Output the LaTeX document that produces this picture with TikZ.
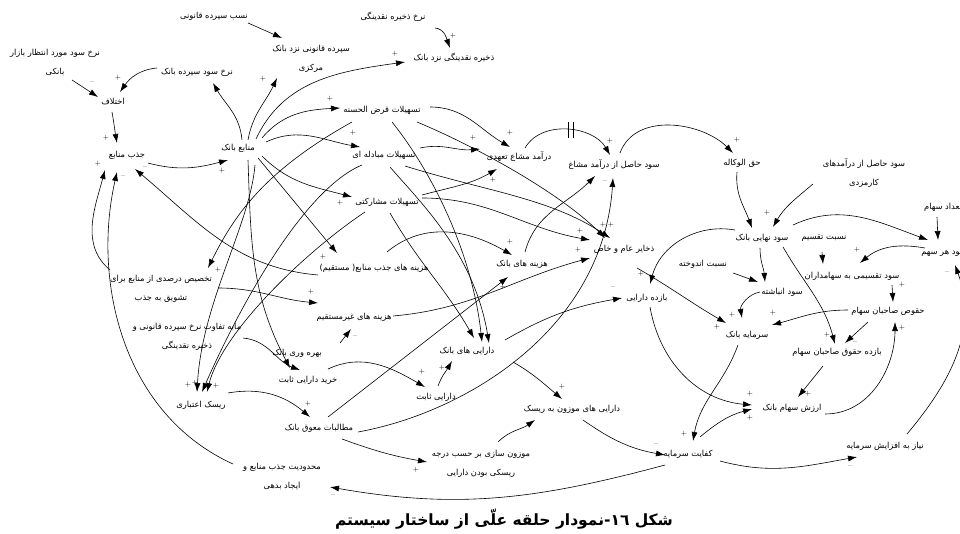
\documentclass[tikz,border=0pt]{standalone}
\usepackage{fontspec}
\usetikzlibrary{arrows.meta}
\newfontfamily\farsi[Script=Arabic]{DejaVu Sans}
\TeXXeTstate=1
\newcommand\fa[1]{\beginR#1\endR}
\begin{document}
\begin{tikzpicture}[x=1pt,y=1pt,
  lbl/.style={font=\farsi\fontsize{8.3}{19}\selectfont, inner sep=1pt, align=center},
  ttl/.style={font=\farsi\bfseries\fontsize{15.5}{18}\selectfont, inner sep=0pt},
  sgn/.style={font=\fontsize{7}{8}\selectfont, inner sep=0pt},
  lnk/.style={line width=0.6pt, -{Latex[length=9pt,width=6pt]}},
  dly/.style={line width=0.7pt}]
\useasboundingbox (0,0) rectangle (960,-534);
\fill[white] (0,0) rectangle (960,-534);
\clip (0,0) rectangle (960,-534);

% ---- variables ----
\node[lbl] (nsq) at (214,-16) {\fa{نسب سپرده قانونی}};
\node[lbl] (nzn) at (393,-17) {\fa{نرخ ذخیره نقدینگی}};
\node[lbl] (sqm) at (311,-59) {\fa{سپرده قانونی نزد بانک}\\\fa{مرکزی}};
\node[lbl] (znb) at (454,-58) {\fa{ذخیره نقدینگی نزد بانک}};
\node[lbl] (nsm) at (55,-62) {\fa{نرخ سود مورد انتظار بازار}\\\fa{بانکی}};
\node[lbl] (nsb) at (197,-72) {\fa{نرخ سود سپرده بانک}};
\node[lbl] (ekh) at (113,-102) {\fa{اختلاف}};
\node[lbl] (jzb) at (127,-155) {\fa{جذب منابع}};
\node[lbl] (mnb) at (238,-148) {\fa{منابع بانک}};
\node[lbl] (qh) at (382,-110) {\fa{تسهیلات قرض الحسنه}};
\node[lbl] (mb) at (384,-155) {\fa{تسهیلات مبادله ای}};
\node[lbl] (ms) at (387,-202) {\fa{تسهیلات مشارکتی}};
\node[lbl] (dmt) at (519,-157) {\fa{درآمد مشاع تعهدی}};
\node[lbl] (shd) at (614,-165) {\fa{سود حاصل از درآمد مشاع}};
\node[lbl] (hv) at (742,-163) {\fa{حق الوکاله}};
\node[lbl] (skz) at (864,-173) {\fa{سود حاصل از درآمدهای}\\\fa{کارمزدی}};
\node[lbl] (zak) at (624,-249) {\fa{ذخایر عام و خاص}};
\node[lbl] (hjm) at (374,-268) {\fa{هزینه های جذب منابع( مستقیم)}};
\node[lbl] (hb) at (522,-264) {\fa{هزینه های بانک}};
\node[lbl] (tkh) at (161,-289) {\fa{تخصیص درصدی از منابع برای}\\\fa{تشویق به جذب}};
\node[lbl] (hgm) at (354,-317) {\fa{هزینه های غیرمستقیم}};
\node[lbl] (snb) at (762,-238) {\fa{سود نهایی بانک}};
\node[lbl] (nt) at (824,-238) {\fa{نسبت تقسیم}};
\node[lbl] (ts) at (943,-207) {\fa{تعداد سهام}};
\node[lbl] (shs) at (944,-253) {\fa{سود هر سهم}};
\node[lbl] (stb) at (852,-276) {\fa{سود تقسیمی به سهامداران}};
\node[lbl] (nan) at (703,-264) {\fa{نسبت اندوخته}};
\node[lbl] (san) at (782,-292) {\fa{سود انباشته}};
\node[lbl] (bd) at (647,-298) {\fa{بازده دارایی}};
\node[lbl] (sb) at (747,-335) {\fa{سرمایه بانک}};
\node[lbl] (hss) at (888,-311) {\fa{حقوص صاحبان سهام}};
\node[lbl] (bhs) at (837,-352) {\fa{بازده حقوق صاحبان سهام}};
\node[lbl] (mtn) at (187,-337) {\fa{مابه تفاوت نرخ سپرده قانونی و}\\\fa{ذخیره نقدینگی}};
\node[lbl] (bvb) at (297,-353) {\fa{بهره وری بانک}};
\node[lbl] (kds) at (308,-380) {\fa{خرید دارایی ثابت}};
\node[lbl] (db) at (467,-351) {\fa{دارایی های بانک}};
\node[lbl] (ds) at (436,-397) {\fa{دارایی ثابت}};
\node[lbl] (re) at (201,-405) {\fa{ریسک اعتباری}};
\node[lbl] (mmb) at (319,-428) {\fa{مطالبات معوق بانک}};
\node[lbl] (dmr) at (572,-409) {\fa{دارایی های موزون به ریسک}};
\node[lbl] (asb) at (792,-408) {\fa{ارزش سهام بانک}};
\node[lbl] (mzs) at (481,-464) {\fa{موزون سازی بر حسب درجه}\\\fa{ریسکی بودن دارایی}};
\node[lbl] (mjm) at (282,-476) {\fa{محدودیت جذب منابع و}\\\fa{ایجاد بدهی}};
\node[lbl] (ks) at (688,-454) {\fa{کفایت سرمایه}};
\node[lbl] (nas) at (885,-446) {\fa{نیاز به افزایش سرمایه}};
\node[ttl] (title) at (504,-519) {\fa{شکل \beginL١٦\endL-نمودار حلقه علّی از ساختار سیستم}};

% ---- causal links ----
\draw[lnk] ([shift={(17,-18)}]nsm.center) -- ([shift={(-15,5)}]ekh.center);
\draw[lnk] ([shift={(-40,4)}]nsb.center) to[out=185,in=55] ([shift={(7,10)}]ekh.center);
\draw[lnk] ([shift={(-1,-10)}]ekh.center) to[out=-80,in=100] ([shift={(-10,12)}]jzb.center);
\draw[lnk] ([shift={(21,-8)}]jzb.center) to[out=-15,in=195] ([shift={(-10,-12)}]mnb.center);
\draw[lnk] ([shift={(34,-7)}]nsq.center) -- ([shift={(-29,21)}]sqm.center);
\draw[lnk] ([shift={(42,-11)}]nzn.center) to[out=-5,in=110] ([shift={(-4,10)}]znb.center);
\draw[lnk] ([shift={(4,8)}]mnb.center) to[out=95,in=-60] ([shift={(16,-11)}]nsb.center);
\draw[lnk] ([shift={(10,8)}]mnb.center) to[out=80,in=-115] ([shift={(-34,-19)}]sqm.center);
\draw[lnk] ([shift={(18,9)}]mnb.center) to[out=65,in=188] ([shift={(-49,-4)}]znb.center);
\draw[lnk] ([shift={(24,10)}]mnb.center) to[out=50,in=183] ([shift={(-42,2)}]qh.center);
\draw[lnk] ([shift={(28,6)}]mnb.center) to[out=25,in=170] ([shift={(-24,8)}]mb.center);
\draw[lnk] ([shift={(24,-8)}]mnb.center) to[out=-45,in=165] ([shift={(-35,5)}]ms.center);
\draw[lnk] ([shift={(20,-10)}]mnb.center) to[out=-50,in=130] ([shift={(-37,15)}]hjm.center);
\draw[lnk] ([shift={(10,-12)}]mnb.center) to[out=-88,in=118] ([shift={(-18,12)}]kds.center);
\draw[lnk] ([shift={(17,-17)}]mnb.center) .. controls +(-5,-60) and +(5,90) .. ([shift={(-4,13)}]re.center);
\draw[lnk] ([shift={(56,-1)}]mtn.center) to[out=-5,in=160] ([shift={(-8,10)}]kds.center);
\draw[lnk] ([shift={(-30,-12)}]qh.center) .. controls +(-90,-50) and +(25,50) .. ([shift={(47,21)}]tkh.center);
\draw[lnk] ([shift={(-22,-10)}]mb.center) .. controls +(-60,-25) and +(35,80) .. ([shift={(1,13)}]re.center);
\draw[lnk] ([shift={(-22,-10)}]ms.center) .. controls +(-60,-40) and +(15,60) .. ([shift={(6,13)}]re.center);
\draw[lnk] ([shift={(48,3)}]qh.center) to[out=0,in=150] ([shift={(-9,10)}]dmt.center);
\draw[lnk] ([shift={(36,7)}]mb.center) to[out=12,in=185] ([shift={(-39,8)}]dmt.center);
\draw[lnk] ([shift={(35,7)}]ms.center) to[out=15,in=-150] ([shift={(-22,-12)}]dmt.center);
\draw[lnk] ([shift={(35,-12)}]qh.center) .. controls +(60,-25) and +(-45,45) .. ([shift={(-19,11)}]zak.center);
\draw[lnk] ([shift={(21,-11)}]mb.center) .. controls +(80,-25) and +(-60,40) .. ([shift={(-14,11)}]zak.center);
\draw[lnk] ([shift={(35,4)}]ms.center) to[out=0,in=170] ([shift={(-34,9)}]zak.center);
\draw[lnk] ([shift={(10,-12)}]qh.center) .. controls +(40,-50) and +(-10,90) .. ([shift={(15,9)}]db.center);
\draw[lnk] ([shift={(6,-12)}]mb.center) .. controls +(30,-35) and +(-15,90) .. ([shift={(22,8)}]db.center);
\draw[lnk] ([shift={(3,-11)}]ms.center) to[out=-60,in=120] ([shift={(7,13)}]db.center);
\draw[lnk] ([shift={(-56,-7)}]hjm.center) to[out=175,in=-40] ([shift={(8,-14)}]jzb.center);
\draw[lnk] ([shift={(13,16)}]hjm.center) to[out=40,in=150] ([shift={(-10,9)}]hb.center);
\draw[lnk] ([shift={(-51,19)}]tkh.center) to[out=140,in=-105] ([shift={(-22,-15)}]jzb.center);
\draw[lnk] ([shift={(-49,12)}]mjm.center) .. controls +(-110,50) and +(-25,-110) .. ([shift={(-10,-17)}]jzb.center);
\draw[lnk] ([shift={(57,1)}]tkh.center) to[out=0,in=175] ([shift={(-36,14)}]hgm.center);
\draw[lnk] ([shift={(43,10)}]bvb.center) -- ([shift={(-3,-12)}]hgm.center);
\draw[lnk] ([shift={(39,1)}]hgm.center) to[out=5,in=195] ([shift={(-34,-9)}]zak.center);
\draw[lnk] ([shift={(9,11)}]mmb.center) -- ([shift={(-14,-13)}]hb.center);
\draw[lnk] ([shift={(39,-4)}]mmb.center) .. controls +(110,20) and +(-10,-150) .. ([shift={(-1,-13)}]shd.center);
\draw[lnk] ([shift={(3,12)}]hb.center) to[out=75,in=-135] ([shift={(-19,-11)}]shd.center);
\draw[lnk] ([shift={(6,9)}]dmt.center) to[out=60,in=120] ([shift={(-4,10)}]shd.center);
\draw[lnk] ([shift={(6,12)}]shd.center) to[out=70,in=135] ([shift={(-9,10)}]hv.center);
\draw[lnk] ([shift={(-5,-9)}]hv.center) to[out=-95,in=110] ([shift={(-10,10)}]snb.center);
\draw[lnk] ([shift={(-51,-11)}]skz.center) to[out=-140,in=60] ([shift={(11,11)}]snb.center);
\draw[lnk] ([shift={(-27,8)}]snb.center) to[out=170,in=75] ([shift={(3,14)}]bd.center);
\draw[lnk] ([shift={(31,13)}]snb.center) to[out=25,in=160] ([shift={(-16,13)}]shs.center);
\draw[lnk] ([shift={(-6,-10)}]ts.center) -- ([shift={(-6,13)}]shs.center);
\draw[lnk] ([shift={(-19,5)}]shs.center) to[out=170,in=40] ([shift={(8,13)}]stb.center);
\draw[lnk] ([shift={(-2,-14)}]nt.center) -- ([shift={(-29,12)}]stb.center);
\draw[lnk] ([shift={(-2,-10)}]snb.center) to[out=-90,in=95] ([shift={(-17,10)}]san.center);
\draw[lnk] ([shift={(30,-9)}]nan.center) -- ([shift={(-24,10)}]san.center);
\draw[lnk] ([shift={(-22,0)}]san.center) to[out=-170,in=100] ([shift={(-5,17)}]sb.center);
\draw[lnk] ([shift={(13,-19)}]zak.center) to[out=-30,in=150] ([shift={(-21,12)}]sb.center);
\draw[lnk] ([shift={(40,-9)}]stb.center) -- ([shift={(5,9)}]hss.center);
\draw[lnk] ([shift={(-40,1)}]hss.center) to[out=180,in=15] ([shift={(25,10)}]sb.center);
\draw[lnk] ([shift={(21,-9)}]snb.center) to[out=-60,in=105] ([shift={(-2,8)}]bhs.center);
\draw[lnk] ([shift={(-20,-11)}]hss.center) -- ([shift={(8,9)}]bhs.center);
\draw[lnk] ([shift={(-14,-14)}]bhs.center) -- ([shift={(6,11)}]asb.center);
\draw[lnk] ([shift={(33,-6)}]asb.center) to[out=0,in=-90] ([shift={(7,-11)}]hss.center);
\draw[lnk] ([shift={(3,-9)}]bd.center) to[out=-80,in=175] ([shift={(-40,3)}]asb.center);
\draw[lnk] ([shift={(12,17)}]ks.center) to[out=40,in=195] ([shift={(-40,-1)}]asb.center);
\draw[lnk] ([shift={(-9,-10)}]sb.center) to[out=-110,in=80] ([shift={(5,13)}]ks.center);
\draw[lnk] ([shift={(11,-11)}]dmr.center) to[out=-35,in=170] ([shift={(-23,-1)}]ks.center);
\draw[lnk] ([shift={(-23,-11)}]ks.center) to[out=-165,in=-10] ([shift={(48,-11)}]mjm.center);
\draw[lnk] ([shift={(32,-7)}]ks.center) to[out=-15,in=190] ([shift={(-28,-11)}]nas.center);
\draw[lnk] ([shift={(22,12)}]nas.center) to[out=50,in=-70] ([shift={(11,-12)}]shs.center);
\draw[lnk] ([shift={(38,11)}]db.center) to[out=30,in=190] ([shift={(-25,0)}]bd.center);
\draw[lnk] ([shift={(46,-11)}]db.center) to[out=-30,in=140] ([shift={(-10,10)}]dmr.center);
\draw[lnk] ([shift={(17,22)}]mzs.center) to[out=45,in=-145] ([shift={(-37,-11)}]dmr.center);
\draw[lnk] ([shift={(23,-11)}]mmb.center) to[out=-20,in=170] ([shift={(-54,2)}]mzs.center);
\draw[lnk] ([shift={(27,12)}]re.center) to[out=10,in=140] ([shift={(-9,11)}]mmb.center);
\draw[lnk] ([shift={(20,11)}]kds.center) to[out=25,in=150] ([shift={(-11,10)}]ds.center);
\draw[lnk] ([shift={(2,11)}]ds.center) to[out=70,in=-120] ([shift={(-15,-10)}]db.center);

% delay mark
\draw[dly] (568,-122) -- (568,-138);
\draw[dly] (573,-122) -- (573,-138);

% ---- polarity signs ----
\foreach \x/\y [count=\i] in {118/78,106/138,98/164,222/171,263/79,395/54,453/36,330/99,353/133,340/203,323/257,218/270,311/292,473/138,510/133,493/180,610/141,737/140,767/213,580/231,578/250,603/225,611/225,510/242,503/287,641/274,717/327,857/250,902/285,732/315,773/313,827/335,902/328,684/434,562/387,808/394,750/394,750/418,188/385,195/383,216/386,308/404,416/470,422/372,442/368}
  \node[sgn] (sp\i) at (\x,-\y) {+};
\foreach \x/\y [count=\i] in {92/83,123/177,145/168,355/337,588/185,605/182,613/288,855/343,947/273,656/445,850/467,333/496}
  \node[sgn] (sm\i) at (\x,-\y) {--};
\end{tikzpicture}
\end{document}
